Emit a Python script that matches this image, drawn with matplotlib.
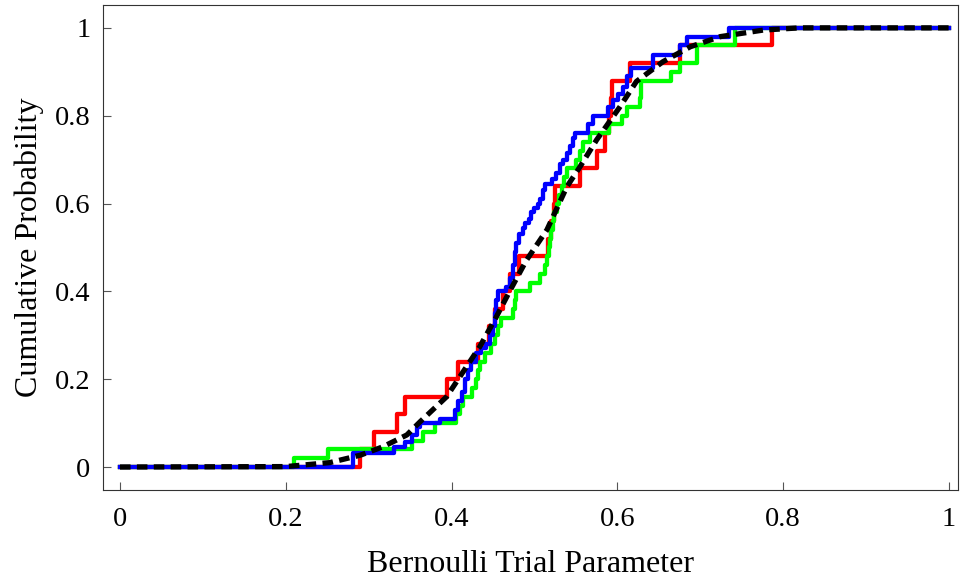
import matplotlib
matplotlib.use("Agg")
import matplotlib.pyplot as plt

plt.rcParams['font.family'] = ['Liberation Serif', 'DejaVu Serif']

# Red empirical CDF: jump positions and levels
red_x = [0.0, 0.29, 0.306, 0.334, 0.344, 0.394, 0.408, 0.432, 0.445, 0.452, 0.462, 0.47, 0.481,
         0.516, 0.52, 0.524, 0.525, 0.555, 0.575, 0.585, 0.59, 0.592, 0.594, 0.615, 0.675, 0.786, 1.0]
red_y = [0.0, 0.04, 0.08, 0.12, 0.16, 0.20, 0.24, 0.28, 0.32, 0.36, 0.40, 0.44, 0.48,
         0.52, 0.56, 0.60, 0.64, 0.68, 0.72, 0.76, 0.80, 0.84, 0.88, 0.92, 0.96, 1.0, 1.0]

# Green empirical CDF
green_x = [0.0, 0.21, 0.251, 0.352, 0.365, 0.38, 0.405, 0.41, 0.414, 0.425, 0.43, 0.432, 0.434,
           0.44, 0.447, 0.452, 0.456, 0.46, 0.474, 0.476, 0.478, 0.495, 0.507, 0.513, 0.515,
           0.517, 0.519, 0.52, 0.522, 0.524, 0.527, 0.53, 0.533, 0.536, 0.539, 0.55, 0.555,
           0.558, 0.567, 0.59, 0.605, 0.612, 0.627, 0.628, 0.665, 0.675, 0.696, 0.742, 1.0]
green_y = [0.0, 0.02, 0.04, 0.06, 0.08, 0.10, 0.12, 0.14, 0.16, 0.18, 0.20, 0.22, 0.24,
           0.26, 0.28, 0.30, 0.32, 0.34, 0.36, 0.38, 0.40, 0.42, 0.44, 0.46, 0.48,
           0.50, 0.52, 0.54, 0.56, 0.58, 0.60, 0.62, 0.64, 0.66, 0.68, 0.70, 0.72,
           0.74, 0.76, 0.78, 0.80, 0.82, 0.84, 0.88, 0.90, 0.92, 0.96, 1.0, 1.0]

# Blue empirical CDF
blue_x = [0.0, 0.281, 0.33, 0.344, 0.352, 0.358, 0.362, 0.386, 0.404, 0.408, 0.412, 0.416, 0.42,
          0.424, 0.43, 0.436, 0.442, 0.446, 0.45, 0.452, 0.454, 0.456, 0.466, 0.47, 0.474,
          0.476, 0.478, 0.481, 0.486, 0.489, 0.493, 0.496, 0.5, 0.504, 0.507, 0.51, 0.513,
          0.521, 0.526, 0.531, 0.535, 0.539, 0.543, 0.547, 0.549, 0.565, 0.571, 0.589, 0.595,
          0.601, 0.607, 0.612, 0.617, 0.643, 0.675, 0.684, 0.735, 1.0]
blue_y = [0.0, 0.033, 0.045, 0.058, 0.073, 0.092, 0.10, 0.11, 0.13, 0.15, 0.17, 0.20, 0.22,
          0.24, 0.26, 0.27, 0.28, 0.30, 0.32, 0.35, 0.38, 0.40, 0.41, 0.43, 0.46,
          0.49, 0.51, 0.53, 0.545, 0.555, 0.565, 0.58, 0.59, 0.60, 0.61, 0.63, 0.645,
          0.655, 0.67, 0.69, 0.70, 0.715, 0.73, 0.75, 0.76, 0.78, 0.80, 0.82, 0.836,
          0.85, 0.866, 0.89, 0.908, 0.938, 0.96, 0.98, 1.0, 1.0]

# Reference (dashed) CDF
ref_x = [0.0, 0.2, 0.253, 0.29, 0.317, 0.346, 0.362, 0.394, 0.434, 0.454, 0.47, 0.49,
         0.515, 0.539, 0.555, 0.575, 0.603, 0.623, 0.655, 0.688, 0.724, 0.776, 0.82, 1.0]
ref_y = [0.0, 0.001, 0.01, 0.027, 0.046, 0.073, 0.103, 0.16, 0.274, 0.342, 0.40, 0.47,
         0.54, 0.638, 0.684, 0.745, 0.82, 0.878, 0.923, 0.957, 0.98, 0.995, 1.0, 1.0]

x_ticks = [0, 0.2, 0.4, 0.6, 0.8, 1]
x_labels = ["0", "0.2", "0.4", "0.6", "0.8", "1"]
y_ticks = [0, 0.2, 0.4, 0.6, 0.8, 1]
y_labels = ["0", "0.2", "0.4", "0.6", "0.8", "1"]

fig = plt.figure(figsize=(9.6, 5.78), dpi=100)
ax = fig.add_axes([0.1073, 0.1522, 0.8906, 0.8391])

lw = 3.1
ax.plot(red_x, red_y, drawstyle='steps-post', color=(1, 0, 0), lw=lw)
ax.plot(green_x, green_y, drawstyle='steps-post', color=(0, 1, 0), lw=lw)
ax.plot(blue_x, blue_y, drawstyle='steps-post', color=(0, 0, 1), lw=lw)
ax.plot(ref_x, ref_y, color='black', lw=3.8, linestyle=(0, (2.0, 1.2)), dash_capstyle='butt')

ax.set_xlim(-0.0205, 1.0109)
ax.set_ylim(-0.0524, 1.052)
ax.set_xticks(x_ticks)
ax.set_xticklabels(x_labels)
ax.set_yticks(y_ticks)
ax.set_yticklabels(y_labels)
ax.tick_params(direction='in', length=6, width=0.8, labelsize=20.5, color='#555555')
ax.tick_params(axis='x', pad=12)
ax.tick_params(axis='y', pad=9)
for s in ax.spines.values():
    s.set_linewidth(0.8)
    s.set_color('#333333')

ax.set_xlabel("Bernoulli Trial Parameter", fontsize=23, labelpad=13)
ax.set_ylabel("Cumulative Probability", fontsize=23, labelpad=8)

fig.savefig("out.png", dpi=100)
